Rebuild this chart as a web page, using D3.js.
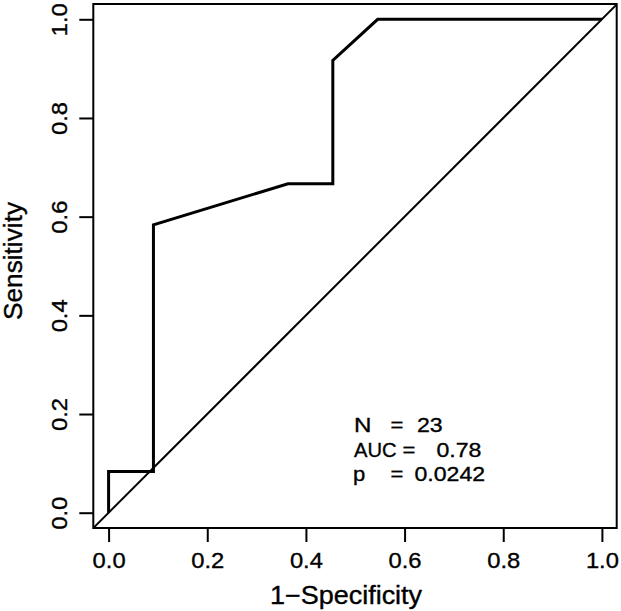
<!DOCTYPE html>
<html>
<head>
<meta charset="utf-8">
<script src="https://cdn.jsdelivr.net/npm/d3@7"></script>
<style>
  html, body { margin: 0; padding: 0; background: #fff; }
  svg { display: block; }
  text { font-family: "Liberation Sans", Arial, Helvetica, sans-serif; fill: #000; stroke: #000; stroke-width: 0.35px; }
</style>
</head>
<body>
<svg id="chart" width="621" height="611"></svg>
<script>
// ROC curve data (1-Specificity, Sensitivity)
const fpr = [0, 0, 1/11, 1/11, 4/11, 5/11, 5/11, 6/11, 1];
const tpr = [0, 1/12, 1/12, 7/12, 8/12, 8/12, 11/12, 1, 1];
const xTicks = [0, 0.2, 0.4, 0.6, 0.8, 1.0];
const yTicks = [0, 0.2, 0.4, 0.6, 0.8, 1.0];
const xLabel = "1\u2212Specificity";
const yLabel = "Sensitivity";
const statLabels = ["N", "AUC", "p"];
const statValues = ["23", "0.78", "0.0242"];

const svg = d3.select("#chart");
const L = 93.3, R = 616.7, T = 4, B = 528;

const x = d3.scaleLinear().domain([-0.031, 1.030]).range([L, R]);
const y = d3.scaleLinear().domain([-0.031, 1.031]).range([B, T]);

svg.append("clipPath").attr("id", "clip")
  .append("rect").attr("x", L).attr("y", T).attr("width", R - L).attr("height", B - T);

// diagonal reference line
svg.append("line")
  .attr("clip-path", "url(#clip)")
  .attr("x1", x(-0.05)).attr("y1", y(-0.05))
  .attr("x2", x(1.05)).attr("y2", y(1.05))
  .attr("stroke", "#000").attr("stroke-width", 2);

// ROC curve
const pts = fpr.map((d, i) => [d, tpr[i]]);
svg.append("path")
  .datum(pts)
  .attr("fill", "none")
  .attr("stroke", "#000")
  .attr("stroke-width", 3)
  .attr("stroke-linejoin", "miter")
  .attr("d", d3.line().x(d => x(d[0])).y(d => y(d[1])));

// box
svg.append("rect")
  .attr("x", L).attr("y", T).attr("width", R - L).attr("height", B - T)
  .attr("fill", "none").attr("stroke", "#000").attr("stroke-width", 2);

// x axis
const xAxis = svg.append("g").attr("transform", `translate(0,${B})`)
  .call(d3.axisBottom(x).tickValues(xTicks).tickSize(14).tickFormat(d3.format(".1f")));
xAxis.select(".domain").remove();
xAxis.selectAll(".tick line").attr("stroke", "#000").attr("stroke-width", 2);
xAxis.selectAll(".tick text").remove();
xAxis.selectAll(".tick").append("text")
  .attr("transform", "translate(0,40) scale(1.08,1)")
  .attr("text-anchor", "middle")
  .style("font-size", "22px")
  .text(d => d3.format(".1f")(d));

// y axis
const yAxis = svg.append("g").attr("transform", `translate(${L},0)`)
  .call(d3.axisLeft(y).tickValues(yTicks).tickSize(14).tickFormat(d3.format(".1f")));
yAxis.select(".domain").remove();
yAxis.selectAll(".tick line").attr("stroke", "#000").attr("stroke-width", 2);
yAxis.selectAll(".tick text").remove();
yAxis.selectAll(".tick").append("text")
  .attr("transform", `translate(${66.7 - L},0) rotate(-90) scale(1.08,1)`)
  .attr("text-anchor", "middle")
  .style("font-size", "22px")
  .text(d => d3.format(".1f")(d));

// axis titles
svg.append("text")
  .attr("transform", "translate(346,603.5) scale(1.08,1)")
  .attr("text-anchor", "middle")
  .style("font-size", "25px")
  .text(xLabel);
svg.append("text")
  .attr("transform", "translate(21.5,261) rotate(-90) scale(1.05,1)")
  .attr("text-anchor", "middle")
  .style("font-size", "25px")
  .text(yLabel);

// stats annotation
const rowsY = [431.7, 456.7, 480.5];
const labelX = [354, 354, 353];
const labelScale = [1.15, 0.96, 1.05];
const eqX = [390.5, 402.5, 390.5];
const valX = [417, 436.5, 414.5];
statLabels.forEach((lab, i) => {
  const g = svg.append("g");
  [[labelX[i], lab, labelScale[i]], [eqX[i], "=", 1.05], [valX[i], statValues[i], 1.1]].forEach(([px, t, s]) => {
    g.append("text")
      .attr("transform", `translate(${px},${rowsY[i]}) scale(${s},1)`)
      .style("font-size", "21px")
      .text(t);
  });
});
</script>
</body>
</html>
